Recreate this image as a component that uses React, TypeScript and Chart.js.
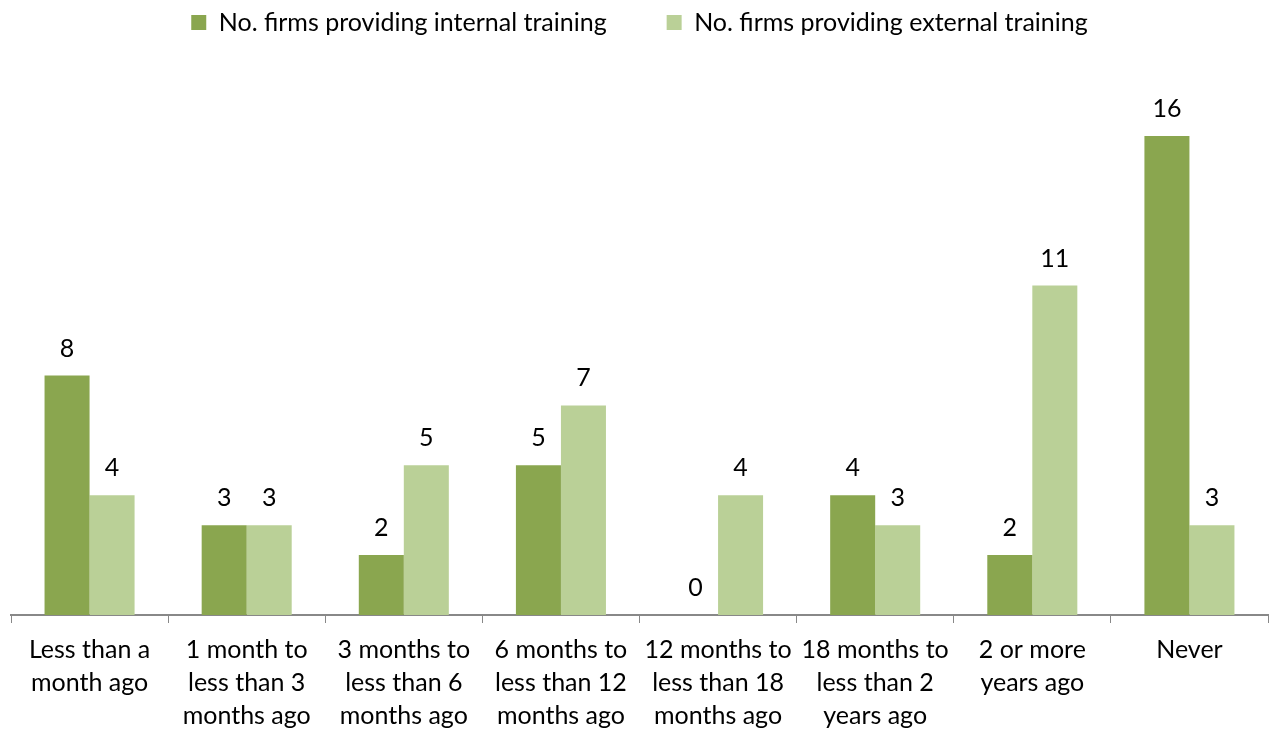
import React, { useEffect, useRef } from "react";
import { Chart, registerables } from "chart.js";

Chart.register(...registerables);

const categories: string[][] = [
  ["Less than a", "month ago"],
  ["1 month to", "less than 3", "months ago"],
  ["3 months to", "less than 6", "months ago"],
  ["6 months to", "less than 12", "months ago"],
  ["12 months to", "less than 18", "months ago"],
  ["18 months to", "less than 2", "years ago"],
  ["2 or more", "years ago"],
  ["Never"],
];
const internalTraining = [8, 3, 2, 5, 0, 4, 2, 16];
const externalTraining = [4, 3, 5, 7, 4, 3, 11, 3];
const seriesNames = [
  "No. firms providing internal training",
  "No. firms providing external training",
];
const colors = ["#8AA64F", "#BAD097"];

const FONT = "Lato, 'Open Sans', sans-serif";
const FS = 25;

const valueLabels = {
  id: "valueLabels",
  afterDatasetsDraw(chart: any) {
    const ctx = chart.ctx;
    ctx.save();
    ctx.font = `${FS}px ${FONT}`;
    ctx.fillStyle = "#000";
    ctx.textAlign = "center";
    ctx.textBaseline = "middle";
    chart.data.datasets.forEach((ds: any, i: number) => {
      const meta = chart.getDatasetMeta(i);
      meta.data.forEach((bar: any, j: number) => {
        ctx.fillText(String(ds.data[j]), bar.x, bar.y - 27);
      });
    });
    ctx.restore();
  },
};

const legendHeight = {
  id: "legendHeight",
  beforeLayout(chart: any) {
    const lg = chart.legend;
    if (lg && !lg.__patched) {
      const orig = lg.fit;
      lg.fit = function () {
        orig.call(this);
        this.height = 126;
      };
      lg.__patched = true;
    }
  },
};

export default function App() {
  const ref = useRef<HTMLCanvasElement>(null);
  useEffect(() => {
    document.body.style.margin = "0";
    const chart = new Chart(ref.current!, {
      type: "bar",
      data: {
        labels: categories,
        datasets: [
          { label: seriesNames[0], data: internalTraining, backgroundColor: colors[0] },
          { label: seriesNames[1], data: externalTraining, backgroundColor: colors[1] },
        ],
      },
      options: {
        animation: false,
        responsive: false,
        maintainAspectRatio: false,
        layout: { padding: { left: 11, right: 10, top: -50, bottom: -11 } },
        datasets: {
          bar: { categoryPercentage: 0.573, barPercentage: 1.0 },
        },
        plugins: {
          legend: {
            position: "top",
            labels: {
              font: { family: FONT, size: FS },
              color: "#000",
              boxWidth: 15,
              boxHeight: 15,
              padding: 60,
            },
          },
          tooltip: { enabled: false },
        },
        scales: {
          x: {
            offset: true,
            grid: {
              offset: true,
              display: true,
              drawOnChartArea: false,
              drawTicks: true,
              tickLength: 8,
              color: "#888",
            },
            border: { display: true, color: "#888", width: 2 },
            ticks: {
              font: { family: FONT, size: FS, lineHeight: 33 / FS },
              color: "#000",
              padding: 10,
              maxRotation: 0,
              autoSkip: false,
            },
          },
          y: {
            display: false,
            min: 0,
            max: 18,
          },
        },
      },
      plugins: [valueLabels, legendHeight],
    });
    return () => chart.destroy();
  }, []);
  return (
    <div style={{ position: "absolute", left: 0, top: 0, width: 1278, height: 731 }}>
      <canvas ref={ref} width={1278} height={731} style={{ width: 1278, height: 731 }} />
    </div>
  );
}
